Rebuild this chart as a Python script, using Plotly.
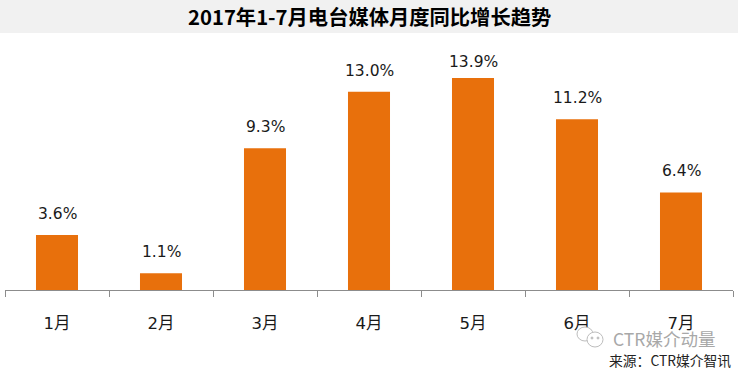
import plotly.graph_objects as go

months = ["1月", "2月", "3月", "4月", "5月", "6月", "7月"]
growth = [3.6, 1.1, 9.3, 13.0, 13.9, 11.2, 6.4]
labels = ["3.6%", "1.1%", "9.3%", "13.0%", "13.9%", "11.2%", "6.4%"]
title_text = "2017年1-7月电台媒体月度同比增长趋势"
source_text = "来源：CTR媒介智讯"
watermark_text = "CTR媒介动量"

W, H = 738, 369
L, R, T, B = 5, 5, 33, 79
pw, ph = W - L - R, H - T - B
FONT = "Noto Sans CJK SC"
LATIN = "DejaVu Sans, Noto Sans CJK SC"


def px(x):
    return (x - L) / pw


def py(y):
    return (H - B - y) / ph


fig = go.Figure(go.Bar(
    x=months, y=growth, cliponaxis=False,
    marker=dict(color="#E8700C", line=dict(width=0)),
    hoverinfo="skip",
))


def bubble(x0, x1, y0, y1, fill="white", line="#BDBDBD"):
    return dict(type="circle", xref="paper", yref="paper", x0=px(x0), x1=px(x1), y0=py(y1), y1=py(y0),
                fillcolor=fill, line=dict(color=line, width=1))


shapes = [
    dict(type="rect", xref="paper", yref="paper", x0=px(0), x1=px(W), y0=py(33), y1=py(0),
         fillcolor="#F1F1F1", line=dict(width=0), layer="below"),
    bubble(577, 593, 327, 341),
    bubble(587, 603, 332, 347),
    bubble(591, 593, 337, 339, "#BDBDBD"),
    bubble(597, 599, 337, 339, "#BDBDBD"),
]

annotations = [
    dict(text=title_text, xref="paper", yref="paper", x=px(369), y=py(16), xanchor="center", yanchor="middle",
         showarrow=False, font=dict(family=FONT, size=20.3, color="#000000", weight="bold")),
    dict(text=watermark_text, xref="paper", yref="paper", x=px(611), y=py(338), xanchor="left", yanchor="middle",
         showarrow=False, font=dict(family=FONT, size=17.5, color="#A8A8A8")),
    dict(text=source_text, xref="paper", yref="paper", x=px(607), y=py(360), xanchor="left", yanchor="middle",
         showarrow=False, font=dict(family=FONT, size=13.8, color="#222222")),
]
tallest = max(growth)
for m, v, t in zip(months, growth, labels):
    annotations.append(dict(text=t, x=m, y=v, xref="x", yref="y", yanchor="middle", xanchor="center",
                            yshift=16 if v == tallest else 21, showarrow=False,
                            font=dict(family=LATIN, size=15.5, color="#1a1a1a")))

fig.update_layout(
    width=W, height=H, autosize=False, showlegend=False,
    margin=dict(l=L, r=R, t=T, b=B, pad=0),
    paper_bgcolor="white", plot_bgcolor="white",
    bargap=0.596, shapes=shapes, annotations=annotations,
)
fig.update_xaxes(
    type="category", tickson="boundaries", ticks="outside", ticklen=6, tickwidth=1, tickcolor="#8C8C8C",
    showline=True, linecolor="#8C8C8C", linewidth=1, showgrid=False, zeroline=False,
    tickfont=dict(family=LATIN, size=16.5, color="#1a1a1a"), ticklabelstandoff=18,
)
fig.update_yaxes(range=[0, 16.86], visible=False, showgrid=False, zeroline=False)

fig.write_html("out.html", config={"displayModeBar": False},
               post_script="document.body.style.margin='0';")
